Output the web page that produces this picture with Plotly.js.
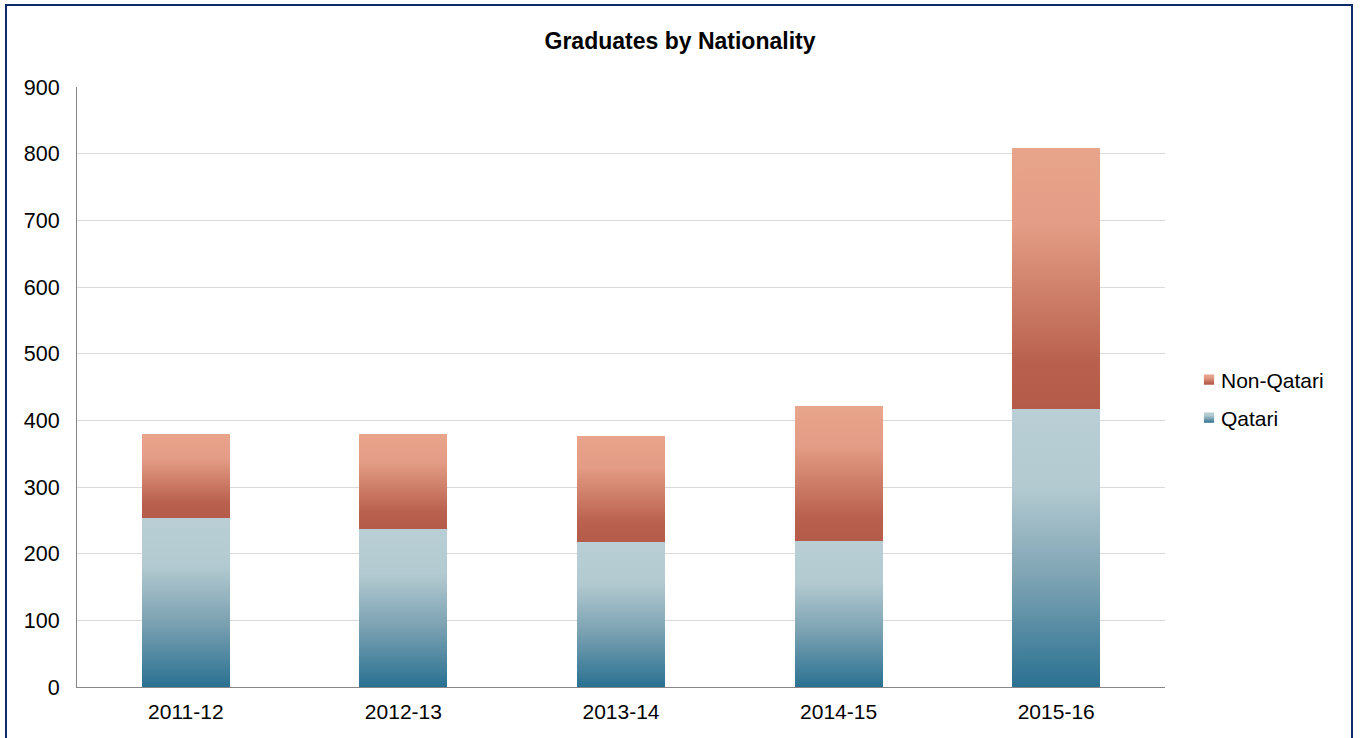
<!DOCTYPE html>
<html>
<head>
<meta charset="utf-8">
<script src="https://cdn.plot.ly/plotly-3.0.1.min.js"></script>
<style>
html,body{margin:0;padding:0;background:#fff;overflow:hidden;}
#chart{width:1360px;height:738px;}
#frame{position:absolute;left:5px;top:4px;width:1344px;height:800px;border:2px solid #0E2C6C;pointer-events:none;}
</style>
</head>
<body>
<div id="chart"></div>
<div id="frame"></div>
<script>
// ---- data ----
const categories = ['2011-12', '2012-13', '2013-14', '2014-15', '2015-16'];
const qatari     = [254, 237, 218, 219, 417];
const nonQatari  = [126, 143, 159, 203, 391];
const yTicks     = [0, 100, 200, 300, 400, 500, 600, 700, 800, 900];
const chartTitle = 'Graduates by Nationality';

const FONT = '"Liberation Sans", Arial, sans-serif';

const traces = [
  {type: 'bar', name: 'Qatari', x: categories, y: qatari,
   marker: {color: '#7FA3B3', line: {width: 0}}, legend: 'legend2'},
  {type: 'bar', name: 'Non-Qatari', x: categories, y: nonQatari,
   marker: {color: '#D1826D', line: {width: 0}}, legend: 'legend'}
];

const layout = {
  width: 1360, height: 738,
  barmode: 'stack', bargap: 0.596,
  paper_bgcolor: '#fff', plot_bgcolor: '#fff',
  margin: {l: 77, r: 195, t: 87, b: 51},
  font: {family: FONT, size: 21, color: '#000'},
  title: {text: '<b>' + chartTitle + '</b>', font: {family: FONT, size: 23, color: '#000'},
          xref: 'container', x: 0.5, xanchor: 'center',
          yref: 'container', y: 1 - 41 / 738, yanchor: 'middle'},
  xaxis: {type: 'category', showgrid: false, showline: true, linecolor: '#868686', linewidth: 1,
          ticks: '', tickfont: {family: FONT, size: 21, color: '#000'}, ticklabelstandoff: 6,
          zeroline: false, fixedrange: true},
  yaxis: {range: [0, 900], tickvals: yTicks, ticktext: yTicks.map(String),
          showgrid: true, gridcolor: '#D9D9D9', gridwidth: 1,
          showline: true, linecolor: '#868686', linewidth: 1, ticks: '',
          tickfont: {family: FONT, size: 21.5, color: '#000'}, ticklabelstandoff: 12,
          zeroline: false, fixedrange: true},
  showlegend: true,
  legend: {xref: 'container', yref: 'container', x: 1181 / 1360, y: 1 - 380 / 738,
           xanchor: 'left', yanchor: 'middle', bgcolor: 'rgba(0,0,0,0)', borderwidth: 0,
           font: {family: FONT, size: 21, color: '#000'}, itemclick: false},
  legend2: {xref: 'container', yref: 'container', x: 1181 / 1360, y: 1 - 418 / 738,
           xanchor: 'left', yanchor: 'middle', bgcolor: 'rgba(0,0,0,0)', borderwidth: 0,
           font: {family: FONT, size: 21, color: '#000'}, itemclick: false}
};

const gradients = {
  gradQ: [[0, '#B9CFD5'], [0.28, '#B3CAD1'], [0.6, '#7FA4B4'], [1, '#2A7191']],
  gradN: [[0, '#E9A48C'], [0.3, '#E39C85'], [0.82, '#B9614E'], [1, '#B55B49']]
};

function addDefs(gd) {
  const defs = gd.querySelector('.main-svg defs');
  if (!defs) return;
  const ns = 'http://www.w3.org/2000/svg';
  Object.keys(gradients).forEach(id => {
    if (defs.querySelector('#' + id)) return;
    const lg = document.createElementNS(ns, 'linearGradient');
    lg.setAttribute('id', id);
    lg.setAttribute('x1', '0'); lg.setAttribute('y1', '0');
    lg.setAttribute('x2', '0'); lg.setAttribute('y2', '1');
    gradients[id].forEach(([o, c]) => {
      const s = document.createElementNS(ns, 'stop');
      s.setAttribute('offset', o);
      s.setAttribute('stop-color', c);
      lg.appendChild(s);
    });
    defs.appendChild(lg);
  });
}

function applyGradients(gd) {
  addDefs(gd);
  const traceGroups = gd.querySelectorAll('.barlayer .trace.bars');
  traceGroups.forEach((g, i) => {
    const id = i === 0 ? 'gradQ' : 'gradN';
    g.querySelectorAll('path').forEach(p => { p.style.fill = 'url(#' + id + ')'; });
  });
  const legMap = {legend: 'gradN', legend2: 'gradQ'};
  Object.keys(legMap).forEach(cls => {
    const lg = gd.querySelector('g.' + cls);
    if (!lg) return;
    lg.querySelectorAll('.legendpoints').forEach(pts => {
      if (!pts.dataset.shifted) {
        const t = pts.getAttribute('transform') || '';
        pts.setAttribute('transform', (t + ' translate(11,0) scale(0.85)').trim());
        pts.dataset.shifted = '1';
      }
      pts.querySelectorAll('path').forEach(p => { p.style.fill = 'url(#' + legMap[cls] + ')'; });
    });
  });
}

const gd = document.getElementById('chart');
Plotly.newPlot(gd, traces, layout, {displayModeBar: false, staticPlot: true}).then(() => {
  applyGradients(gd);
  gd.on && gd.on('plotly_afterplot', () => applyGradients(gd));
});
</script>
</body>
</html>
